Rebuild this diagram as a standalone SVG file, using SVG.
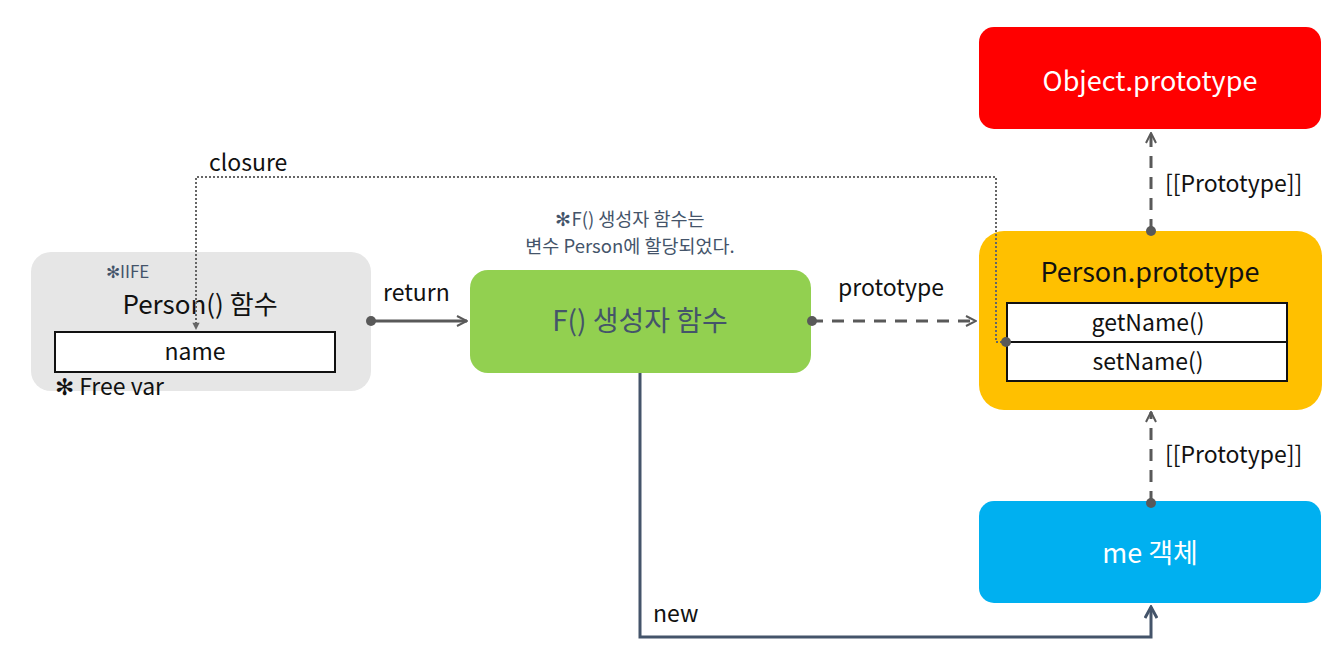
<svg xmlns="http://www.w3.org/2000/svg" width="1336" height="670" viewBox="0 0 1336 670">
<defs>
<style>
text{font-family:"Noto Sans CJK KR","Noto Sans",sans-serif;}
.lbl{font-size:23px;fill:#111;}
.note{font-size:18.5px;fill:#44546a;}
.conn{fill:none;stroke:#595959;stroke-width:3;}
.dash{stroke-dasharray:12 9;}
.dot{stroke:#666;stroke-width:2;stroke-dasharray:2 2;fill:none;}
.cell{fill:#fff;stroke:#111;stroke-width:2;}
</style>
<marker id="arr" viewBox="0 0 12 12" refX="11" refY="6" markerWidth="12" markerHeight="12" markerUnits="userSpaceOnUse" orient="auto">
<path d="M1,1 L11,6 L1,11" fill="none" stroke="#595959" stroke-width="2"/>
</marker>
<marker id="arrS" viewBox="0 0 10 10" refX="9" refY="5" markerWidth="9" markerHeight="9" markerUnits="userSpaceOnUse" orient="auto">
<path d="M1,1 L9,5 L1,9 Z" fill="#666"/>
</marker>
<marker id="arrN" viewBox="0 0 14 14" refX="12" refY="7" markerWidth="14" markerHeight="14" markerUnits="userSpaceOnUse" orient="auto">
<path d="M1,1 L12,7 L1,13" fill="none" stroke="#44546a" stroke-width="3"/>
</marker>
</defs>
<rect width="1336" height="670" fill="#fff"/>

<g id="person-fn">
<rect x="31" y="252" width="340" height="139" rx="20" fill="#e6e6e6"/>
<text x="106" y="278" fill="#44546a" font-size="17">✻IIFE</text>
<text x="200" y="314" text-anchor="middle" font-size="26" fill="#111">Person() 함수</text>
<rect x="55" y="332" width="280" height="40" class="cell"/>
<text x="195" y="360" text-anchor="middle" class="lbl">name</text>
<text x="55" y="395" class="lbl">✻ Free var</text>
</g>

<g id="f-ctor">
<text x="630" y="226" text-anchor="middle" class="note">✻F() 생성자 함수는</text>
<text x="630" y="253" text-anchor="middle" class="note">변수 Person에 할당되었다.</text>
<rect x="470" y="270" width="341" height="103" rx="18" fill="#92d050"/>
<text x="640" y="331" text-anchor="middle" font-size="28" fill="#44546a">F() 생성자 함수</text>
</g>

<g id="object-proto">
<rect x="979" y="27" width="342" height="102" rx="15" fill="#ff0000"/>
<text x="1150" y="91" text-anchor="middle" font-size="27" fill="#fff">Object.prototype</text>
</g>

<g id="person-proto">
<rect x="979" y="231" width="343" height="179" rx="25" fill="#ffc000"/>
<text x="1150" y="282" text-anchor="middle" font-size="27" fill="#111">Person.prototype</text>
<rect x="1007" y="303" width="280" height="39" class="cell"/>
<rect x="1007" y="342" width="280" height="39" class="cell"/>
<text x="1148" y="331" text-anchor="middle" class="lbl">getName()</text>
<text x="1148" y="370" text-anchor="middle" class="lbl">setName()</text>
</g>

<g id="me-obj">
<rect x="979" y="501" width="342" height="102" rx="15" fill="#00b0f0"/>
<text x="1150" y="563" text-anchor="middle" font-size="27" fill="#fff">me 객체</text>
</g>

<g id="connectors">
<path class="dot" d="M1006,342 H996 V177 H196 V330" marker-end="url(#arrS)"/>
<circle cx="1006" cy="342" r="5" fill="#595959"/>
<text x="209" y="171" class="lbl">closure</text>

<path class="conn" d="M371,321 H467" marker-end="url(#arr)"/>
<circle cx="371" cy="321" r="5" fill="#595959"/>
<text x="383" y="301" class="lbl">return</text>

<path class="conn dash" d="M811,321 H976" marker-end="url(#arr)"/>
<circle cx="812" cy="321" r="5" fill="#595959"/>
<text x="838" y="296" class="lbl">prototype</text>

<path class="conn dash" d="M1151,231 V133" marker-end="url(#arr)"/>
<circle cx="1151" cy="231" r="5" fill="#595959"/>
<text x="1165" y="192" class="lbl">[[Prototype]]</text>

<path class="conn dash" d="M1151,503 V412" marker-end="url(#arr)"/>
<circle cx="1151" cy="503" r="5" fill="#595959"/>
<text x="1165" y="463" class="lbl">[[Prototype]]</text>

<path d="M640,373 V637 H1151 V607" fill="none" stroke="#44546a" stroke-width="3" marker-end="url(#arrN)"/>
<text x="653" y="622" class="lbl">new</text>
</g>
</svg>
